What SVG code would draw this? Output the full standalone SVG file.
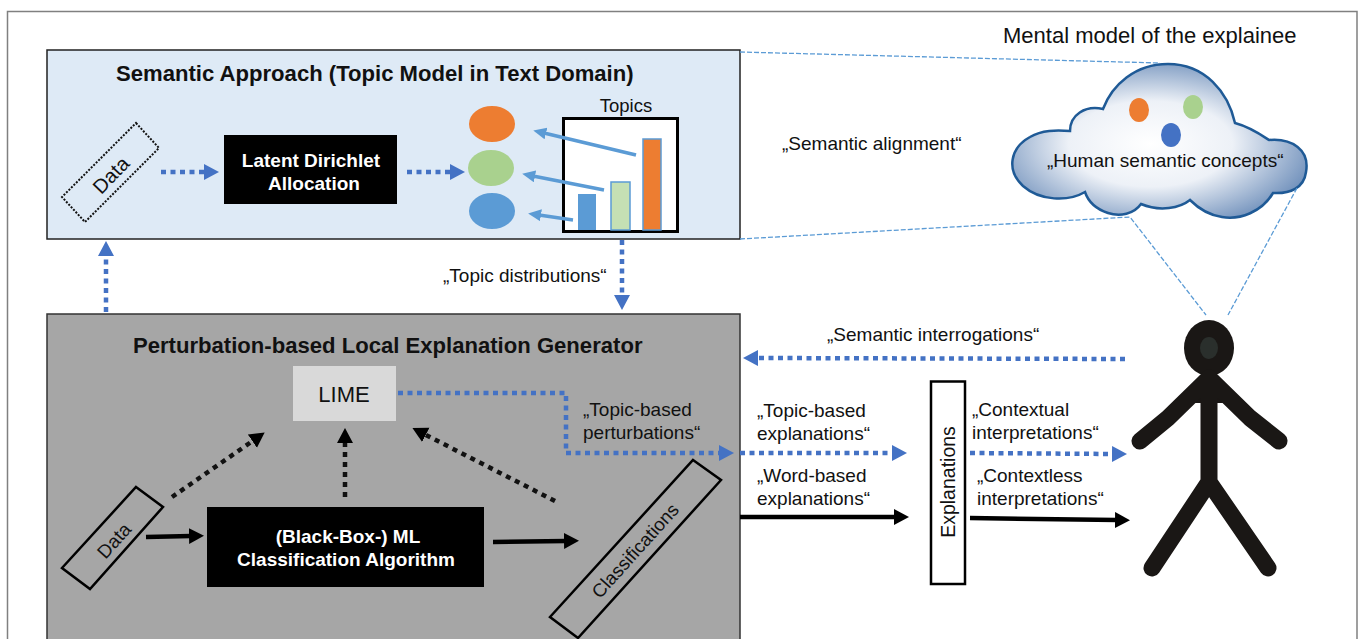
<svg xmlns="http://www.w3.org/2000/svg" width="1358" height="639" viewBox="0 0 1358 639">
<style>
text{font-family:"Liberation Sans",Arial,sans-serif;fill:#111}
.t{font-size:19px}
.b{font-size:22.100px;font-weight:bold}
.w{font-size:19px;font-weight:bold;fill:#fff;text-anchor:middle}
.dash{fill:none;stroke:#5b9bd5;stroke-width:1.300;stroke-dasharray:5 2}
.bd{fill:none;stroke:#4472c4;stroke-width:4.500;stroke-dasharray:5 4.500;marker-end:url(#ab)}
.kd{fill:none;stroke:#111;stroke-width:4.500;stroke-dasharray:5 5;marker-end:url(#ak)}
.ks{fill:none;stroke:#000;stroke-width:4.500;marker-end:url(#ak)}
.ls{fill:none;stroke:#5b9bd5;stroke-width:3.500;marker-end:url(#al)}
.lim{stroke:#1a1715;stroke-width:17;stroke-linecap:round;stroke-linejoin:round;fill:none}
</style>
<defs>
<marker id="ab" markerUnits="userSpaceOnUse" markerWidth="18" markerHeight="18" refX="2" refY="8" orient="auto"><path d="M0,0L15,8L0,16Z" fill="#4472c4"/></marker>
<marker id="ak" markerUnits="userSpaceOnUse" markerWidth="18" markerHeight="18" refX="2" refY="8" orient="auto"><path d="M0,0L15,8L0,16Z" fill="#000"/></marker>
<marker id="al" markerUnits="userSpaceOnUse" markerWidth="16" markerHeight="14" refX="2" refY="6" orient="auto"><path d="M0,0L13,6L0,12Z" fill="#5b9bd5"/></marker>
<radialGradient id="cg" cx="0.47" cy="0.52" r="0.62"><stop offset="0" stop-color="#fff"/><stop offset="0.45" stop-color="#edf1f7"/><stop offset="1" stop-color="#5f83b3"/></radialGradient>
</defs>
<path id="frame" d="M7.500,639V11.500H1357V639" fill="none" stroke="#808080" stroke-width="1.500"/>
<g id="semantic-panel"><rect x="47" y="50" width="693" height="189" fill="#deeaf6" stroke="#222" stroke-width="1.500"/><text class="b" x="116" y="81">Semantic Approach (Topic Model in Text Domain)</text></g>
<g id="perturbation-panel"><rect x="47" y="314" width="693" height="330" fill="#a6a6a6" stroke="#333" stroke-width="1.500"/><text class="b" x="133" y="353">Perturbation-based Local Explanation Generator</text></g>
<g id="data-top"><polygon points="136,123 159,148 85,222 62,197" fill="none" stroke="#111" stroke-width="2" stroke-dasharray="2 1.500"/><text font-size="20" transform="translate(116,180) rotate(-46)" text-anchor="middle">Data</text></g>
<g id="lda"><rect x="224" y="135" width="173" height="69" fill="#000"/><text class="w" x="311" y="167">Latent Dirichlet</text><text class="w" x="314" y="190">Allocation</text></g>
<g id="topic-orange"><ellipse cx="492" cy="124" rx="23" ry="18" fill="#ed7d31"/></g>
<g id="topic-green"><ellipse cx="491" cy="168" rx="23" ry="18" fill="#a9d18e"/></g>
<g id="topic-blue"><ellipse cx="492" cy="211" rx="23" ry="18" fill="#5b9bd5"/></g>
<g id="topics-chart"><rect x="563.500" y="118.500" width="114" height="113" fill="#fff" stroke="#000" stroke-width="3"/><rect x="578" y="194" width="18" height="36" fill="#5b9bd5"/><rect x="611" y="182" width="19" height="48" fill="#c5e0b4" stroke="#5b9bd5" stroke-width="1.500"/><rect x="643" y="139" width="18" height="91" fill="#ed7d31" stroke="#5b9bd5" stroke-width="1.500"/><text x="626" y="112" font-size="18.500" text-anchor="middle">Topics</text></g>
<g id="lime"><rect x="293" y="366" width="103" height="55" fill="#d9d9d9"/><text x="344" y="402" font-size="22" text-anchor="middle">LIME</text></g>
<g id="data-bottom"><polygon points="136,487 163,507 90,589 62,568" fill="none" stroke="#000" stroke-width="2.500"/><text font-size="19" transform="translate(119,545) rotate(-48)" text-anchor="middle">Data</text></g>
<g id="ml"><rect x="207" y="507" width="277" height="80" fill="#000"/><text class="w" x="348" y="543">(Black-Box-) ML</text><text class="w" x="346" y="566">Classification Algorithm</text></g>
<g id="classifications"><polygon points="693,460 721,480 578,638 550,617" fill="none" stroke="#000" stroke-width="2.500"/><text font-size="18.700" transform="translate(640,555) rotate(-48)" text-anchor="middle">Classifications</text></g>
<g id="explanations"><rect x="931" y="381.500" width="34" height="202.500" fill="#fff" stroke="#000" stroke-width="2.500"/><text font-size="19.500" transform="translate(955,482) rotate(-90)" text-anchor="middle">Explanations</text></g>
<g id="cloud"><path d="M1168,64C1205,64 1228,92 1235,123C1250,127 1260,134 1269,140C1292,138 1310,150 1306,172C1304,188 1290,194 1273,193C1262,212 1240,220 1222,217C1208,215 1198,208 1190,200C1180,208 1160,212 1141,204C1134,214 1120,217 1108,213C1096,209 1088,201 1085,192C1068,202 1040,201 1023,186C1006,170 1010,148 1030,137C1042,130 1056,130 1070,131C1070,115 1085,105 1103,109C1112,85 1135,64 1168,64Z" fill="url(#cg)" stroke="#1f5a96" stroke-width="2.500"/><ellipse cx="1139" cy="110" rx="10" ry="12" fill="#ed7d31"/><ellipse cx="1193" cy="107" rx="10" ry="12" fill="#a9d18e"/><ellipse cx="1171" cy="135" rx="10" ry="12" fill="#4472c4"/><text class="t" x="1047" y="167">„Human semantic concepts“</text></g>
<g id="person"><ellipse cx="1209" cy="348" rx="25" ry="28" fill="#1a1715"/><ellipse cx="1209" cy="348" rx="9" ry="11" fill="#2a2f2c"/><polygon points="1209,372 1232,403 1186,403" fill="#1a1715"/><path class="lim" d="M1209,378V482M1140,441L1168,418L1209,378L1250,418L1279,441M1152,568L1209,482L1268,568"/></g>
<g id="connectors">
<path class="dash" d="M740,52L1160,63M740,239L1130,217L1206,315M1297,188L1228,315"/>
<path class="bd" d="M161,172H206"/><path class="bd" d="M407,172H452"/>
<path class="bd" d="M106,312V254"/><path class="bd" d="M622,240V297"/>
<path class="bd" d="M398,393H566V453H721"/>
<path class="bd" d="M740,453H894"/><path class="bd" d="M970,453L1114,454"/><path class="bd" d="M1125,359L756,358"/>
<path class="kd" d="M172,497L254,440"/><path class="kd" d="M345,497V441"/><path class="kd" d="M555,501L424,434"/>
<path class="ks" d="M146,537L191,536"/><path class="ks" d="M493,542L566,541"/><path class="ks" d="M740,517H896"/><path class="ks" d="M970,518L1117,520"/>
<path class="ls" d="M636,155L544,133"/><path class="ls" d="M604,190L533,176"/><path class="ls" d="M573,220L539,215"/>
</g>
<g id="labels">
<text x="1003" y="43" font-size="22">Mental model of the explainee</text>
<text class="t" x="782" y="150">„Semantic alignment“</text>
<text class="t" x="443" y="282">„Topic distributions“</text>
<text class="t" x="827" y="341">„Semantic interrogations“</text>
<text class="t" x="583" y="416">„Topic-based</text><text class="t" x="583" y="439">perturbations“</text>
<text class="t" x="757" y="417">„Topic-based</text><text class="t" x="757" y="440">explanations“</text>
<text class="t" x="757" y="482">„Word-based</text><text class="t" x="757" y="505">explanations“</text>
<text class="t" x="972" y="416">„Contextual</text><text class="t" x="972" y="439">interpretations“</text>
<text class="t" x="977" y="482">„Contextless</text><text class="t" x="977" y="505">interpretations“</text>
</g>
</svg>
